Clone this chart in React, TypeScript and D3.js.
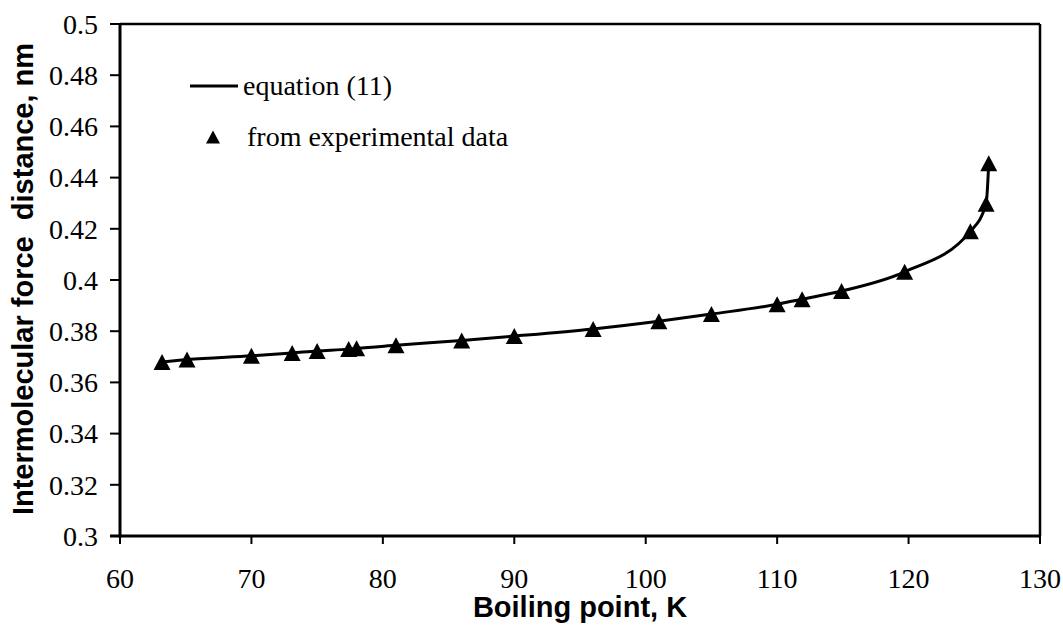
import React from "react";
import * as d3 from "d3";

// boiling point (K) vs intermolecular force distance (nm)
const boilingPoints = [63.2, 65.1, 70.0, 73.1, 75.0, 77.4, 78.0, 81.0, 86.0, 90.0, 96.0, 101.0, 105.0, 110.0, 111.9, 114.9, 119.7, 124.7, 125.9, 126.1];
const distances = [0.368, 0.3689, 0.3704, 0.3715, 0.3723, 0.373, 0.3733, 0.3745, 0.3764, 0.3781, 0.3809, 0.3839, 0.3867, 0.3905, 0.3925, 0.3957, 0.4032, 0.419, 0.4298, 0.4456];

const xTicks = [60, 70, 80, 90, 100, 110, 120, 130];
const yTicks = [0.3, 0.32, 0.34, 0.36, 0.38, 0.4, 0.42, 0.44, 0.46, 0.48, 0.5];

const legendLabels = ["equation (11)", "from experimental data"];

const W = 1063;
const H = 630;
const margin = { left: 120, right: 23, top: 24, bottom: 94 };

const serif = "'Liberation Serif', 'Times New Roman', serif";
const sans = "'Liberation Sans', Arial, sans-serif";

function triangle(cx: number, cy: number, w = 17, h = 16) {
  return `M${cx},${cy - h / 2}L${cx + w / 2},${cy + h / 2}L${cx - w / 2},${cy + h / 2}Z`;
}

export default function App() {
  const x = d3.scaleLinear().domain([60, 130]).range([margin.left, W - margin.right]);
  const y = d3.scaleLinear().domain([0.3, 0.5]).range([H - margin.bottom, margin.top]);

  const points = boilingPoints.map((b, i) => [b, distances[i]] as [number, number]);
  const line = d3
    .line<[number, number]>()
    .x((d) => x(d[0]))
    .y((d) => y(d[1]))
    .curve(d3.curveMonotoneX);

  const x0 = x(60);
  const x1 = x(130);
  const y0 = y(0.3);
  const y1 = y(0.5);

  return (
    <svg width={W} height={H} style={{ position: "absolute", left: 0, top: 0, background: "#fff" }}>
      {/* frame */}
      <line x1={x0} x2={x1} y1={y1} y2={y1} stroke="#000" strokeWidth={2.5} />
      <line x1={x1} x2={x1} y1={y1} y2={y0} stroke="#000" strokeWidth={2.5} />

      {/* y axis */}
      <line x1={x0} x2={x0} y1={y1 - 1} y2={y0 + 1.5} stroke="#000" strokeWidth={3} />
      {yTicks.map((t) => (
        <g key={t}>
          <line x1={x0 - 10} x2={x0} y1={y(t)} y2={y(t)} stroke="#000" strokeWidth={2} />
          <text
            x={x0 - 22}
            y={y(t)}
            dy="0.35em"
            textAnchor="end"
            fontFamily={serif}
            fontSize={28}
          >
            {String(+t.toFixed(2))}
          </text>
        </g>
      ))}

      {/* x axis */}
      <line x1={x0 - 10} x2={x1} y1={y0} y2={y0} stroke="#000" strokeWidth={3} />
      {xTicks.map((t) => (
        <g key={t}>
          <line x1={x(t)} x2={x(t)} y1={y0} y2={y0 + 8} stroke="#000" strokeWidth={2} />
          <text x={x(t)} y={588} textAnchor="middle" fontFamily={serif} fontSize={28}>
            {t}
          </text>
        </g>
      ))}

      {/* axis titles */}
      <text
        x={(x0 + x1) / 2}
        y={617}
        textAnchor="middle"
        fontFamily={sans}
        fontWeight="bold"
        fontSize={29}
      >
        Boiling point, K
      </text>
      <text
        transform={`translate(33, ${(y0 + y1) / 2 - 1}) rotate(-90)`}
        textAnchor="middle"
        fontFamily={sans}
        fontWeight="bold"
        fontSize={29}
        style={{ whiteSpace: "pre" }}
      >
        {"Intermolecular force  distance, nm"}
      </text>

      {/* equation curve */}
      <path d={line(points) || ""} fill="none" stroke="#000" strokeWidth={3} />

      {/* experimental points */}
      {points.map((p, i) => (
        <path key={i} d={triangle(x(p[0]), y(p[1]))} fill="#000" />
      ))}

      {/* legend */}
      <line x1={190} x2={238} y1={86} y2={86} stroke="#000" strokeWidth={3} />
      <text x={243} y={86} dy="0.33em" fontFamily={serif} fontSize={28}>
        {legendLabels[0]}
      </text>
      <path d={triangle(213, 137, 14, 13)} fill="#000" />
      <text x={247} y={137} dy="0.33em" fontFamily={serif} fontSize={28}>
        {legendLabels[1]}
      </text>
    </svg>
  );
}
